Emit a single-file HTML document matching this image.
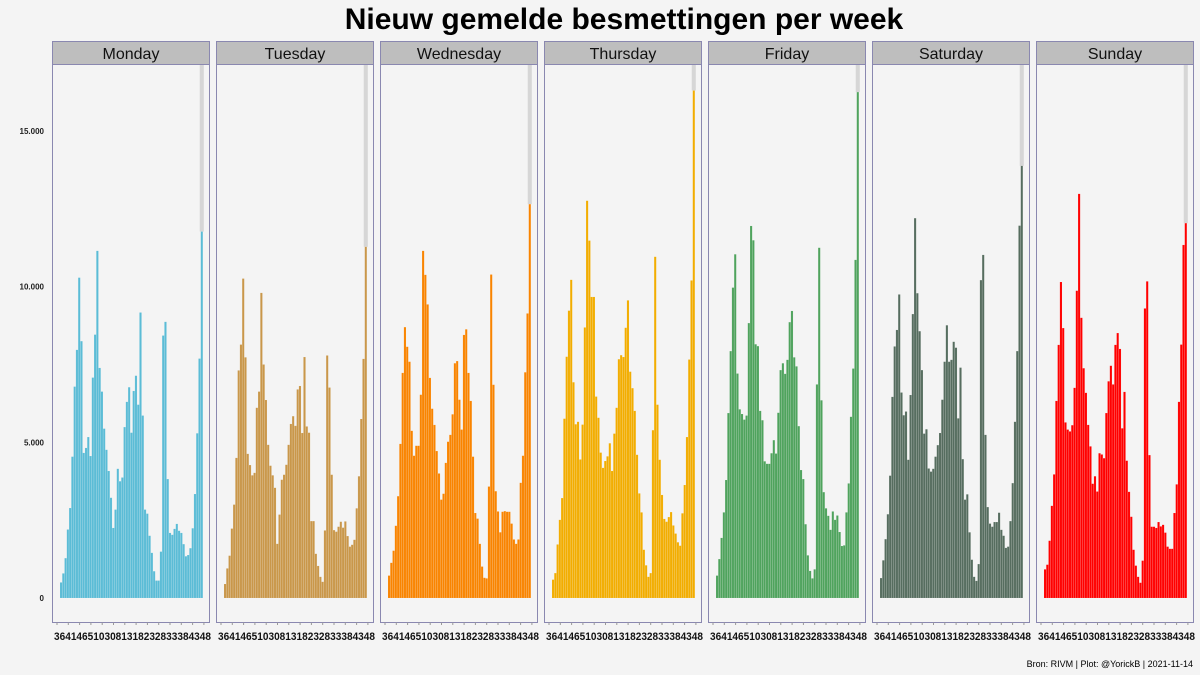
<!DOCTYPE html>
<html><head><meta charset="utf-8">
<style>
html,body{margin:0;padding:0;background:#f4f4f4;}
svg{display:block;font-family:"Liberation Sans",sans-serif;}
</style></head>
<body>
<svg id="chart" width="1200" height="675" viewBox="0 0 1200 675" xmlns="http://www.w3.org/2000/svg">
<rect width="1200" height="675" fill="#f4f4f4"/>
<text x="624" y="29" text-anchor="middle" font-size="30" font-weight="bold" fill="#000">Nieuw gemelde besmettingen per week</text>
<text x="1193" y="667" text-anchor="end" font-size="9" fill="#000">Bron: RIVM | Plot: @YorickB |  2021-11-14</text>
<g id="panels"></g>
</svg>
<script>
const days = ["Monday","Tuesday","Wednesday","Thursday","Friday","Saturday","Sunday"];
const colors = ["#5bbcd6","#c9974a","#f98400","#f2ad00","#4fa35d","#566d5f","#ff0000"];
const yTicks = [0,5000,10000,15000];
const yTickLabels = ["0","5.000","10.000","15.000"];
const xTickLabels = ["36","41","46","51","03","08","13","18","23","28","33","38","43","48"];
const monday = [500,790,1280,2200,2890,4540,6790,7970,10290,8250,4660,4820,5170,4560,7080,8460,11150,7390,6630,5440,4760,4080,3220,2250,2840,4150,3750,3870,5490,6300,6770,5310,6650,7140,6210,9170,5860,2840,2710,2000,1450,860,560,560,1490,8430,8870,3820,2090,2030,2220,2380,2160,2090,1730,1340,1380,1600,2240,3340,5290,7690,11770];
const tuesday = [450,950,1360,2230,3000,4500,7310,8140,10260,7730,4630,4270,3940,4020,6110,6630,9800,7500,6360,4920,4250,3940,3540,1740,2680,3800,3960,4280,4920,5590,5840,5530,6700,6810,5300,7740,5510,5310,2470,2470,1420,1030,680,520,2170,7790,6760,3960,2180,2130,2290,2450,2260,2460,1990,1650,1710,1870,2880,3910,5750,7680,11280];
const wednesday = [720,1130,1520,2320,3270,4950,7230,8700,8070,7590,5370,4570,4890,4890,6530,11150,10380,9430,7070,6080,5560,4720,4000,3160,3350,4340,5020,5240,5900,7540,7610,6370,5410,8450,8630,7230,6330,4540,2730,2550,1740,1010,650,630,3580,10390,6850,3430,2780,2110,2770,2790,2770,2770,2390,1880,1740,1880,3700,4570,7250,9140,12650];
const thursday = [590,800,1720,2510,3210,5760,7750,9230,10220,6930,5580,5660,4450,5570,8690,12760,11480,9670,9670,6470,5790,4670,4180,4400,4550,4970,4080,5280,6110,7670,7800,7740,8680,9560,7270,6740,6010,4600,3360,2750,1550,1050,680,800,5390,10960,6210,4440,3310,2540,2450,2600,2760,2330,2070,1790,1680,2720,3630,5170,7660,10200,16300];
const friday = [720,1250,1930,2750,3790,5940,7930,9970,11040,7210,6060,5910,5730,5860,8830,11950,11490,8150,8090,6010,5710,4390,4310,4310,4650,5070,4640,5950,7320,7540,7200,7650,8860,9220,7730,7440,5520,4110,3820,2370,1370,870,630,920,6860,11250,6350,3400,2880,2640,2190,2780,2510,2650,2120,1670,1690,2750,3680,5820,7370,10860,16250];
const saturday = [640,1210,1890,2690,3930,6460,8080,8610,9750,6600,5870,5990,4440,6520,9120,12200,9790,8570,7320,5280,5420,4160,4060,4150,4540,4910,5300,6370,7590,8760,7590,7650,8230,8040,5770,7400,4460,3160,3330,2110,1230,680,550,1090,10210,11020,5240,2920,2390,2290,2440,2440,2740,2190,2000,1610,1650,2470,3690,5660,7930,11960,13880];
const sunday = [920,1070,1840,2960,3970,6330,8130,10150,8670,5640,5410,5350,5550,6750,9870,12980,9000,7380,6590,5560,4870,3670,3910,3420,4650,4610,4490,5940,6960,7460,6860,8130,8510,8000,5450,6620,4410,3410,2610,1550,1040,680,490,1200,9300,10170,4590,2290,2290,2250,2440,2300,2350,2100,1650,1580,1580,2730,3650,6300,8140,11340,12040];
const series = [monday,tuesday,wednesday,thursday,friday,saturday,sunday];

const NS = "http://www.w3.org/2000/svg";
const g = document.getElementById("panels");
const panelTop = 64, panelBottom = 622, stripTop = 41;
const panelW = 157, panelStep = 164, firstPanel = 52;
const y0 = 598, pxPer = 467/15000;
function yScale(v){ return y0 - v*pxPer; }
function mk(tag, attrs, parent){
  const e = document.createElementNS(NS, tag);
  for (const k in attrs) e.setAttribute(k, attrs[k]);
  (parent||g).appendChild(e);
  return e;
}
yTicks.forEach((t,i)=>{
  const tx = mk("text",{x:44,y:yScale(t)+3,"text-anchor":"end","font-size":"8","font-weight":"bold",fill:"#222"});
  tx.textContent = yTickLabels[i];
  
  
});
days.forEach((day, p)=>{
  const px = firstPanel + p*panelStep;
  const pg = mk("g",{});
  
  
  const border = mk("rect",{x:px+0.5,y:panelTop+0.5,width:panelW,height:panelBottom-panelTop,fill:"#f4f4f4",stroke:"#8a88b0","stroke-width":1},pg);
  
  
  const strip = mk("rect",{x:px+0.5,y:stripTop+0.5,width:panelW,height:panelTop-stripTop,fill:"#bebebe",stroke:"#8a88b0","stroke-width":1},pg);
  
  
  const st = mk("text",{x:px+panelW/2+0.5,y:59,"text-anchor":"middle","font-size":"16",fill:"#111"},pg);
  st.textContent = day;
  
  
  const vals = series[p];
  const n = vals.length;
  const bx0 = px + 8, bx1 = px + 151;
  const step = (bx1 - bx0)/n;
  const hx = bx0 + (n-1)*step - 1;
  const hl = mk("rect",{x:hx,y:panelTop+1,width:step+1.8,height:yScale(vals[n-1])-panelTop-1,fill:"#d6d6d6"},pg);
  
  
  vals.forEach((v,i)=>{
    const yy = yScale(v);
    const b = mk("rect",{x:bx0+i*step,y:yy,width:step-0.15,height:y0-yy,fill:colors[p],stroke:"#ffffff","stroke-opacity":"0.18","stroke-width":"0.4"},pg);
    
    
  });
  for (let k=0;k<14;k++){
    const tx = px + 5 + k*11.3;
    const tk = mk("line",{x1:tx,x2:tx,y1:panelBottom+0.5,y2:panelBottom+3,stroke:"#999","stroke-width":1},pg);
    
    
  }
  const xl = mk("text",{x:px+panelW/2+2,y:640,"text-anchor":"middle","font-size":"11","font-weight":"bold",fill:"#111","textLength":157,"lengthAdjust":"spacingAndGlyphs"},pg);
  xl.textContent = xTickLabels.join("");
  
  
});
</script>
</body></html>
